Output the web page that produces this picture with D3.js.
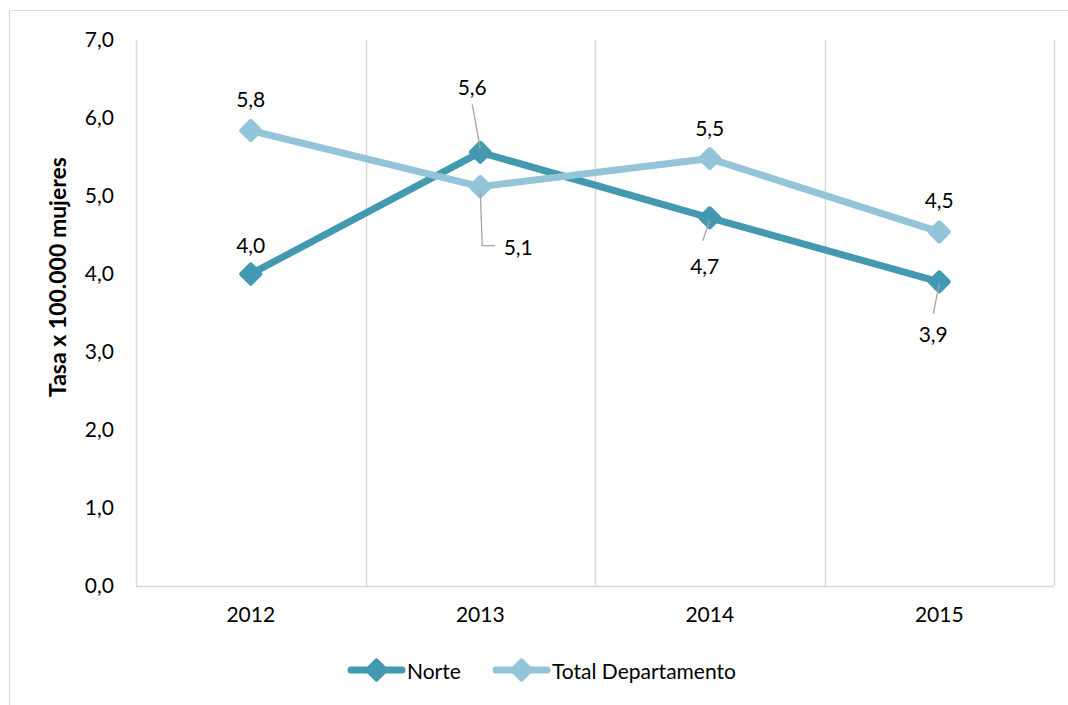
<!DOCTYPE html>
<html>
<head>
<meta charset="utf-8">
<script src="https://cdn.jsdelivr.net/npm/d3@7"></script>
<style>
  body { margin: 0; background: #fff; }
  text { font-family: Lato, "Open Sans", sans-serif; fill: #000; }
</style>
</head>
<body>
<script>
// data
var years = ["2012", "2013", "2014", "2015"];
var norte = [4.0, 5.56, 4.72, 3.9];
var totalDepto = [5.84, 5.12, 5.48, 4.54];
var yTicks = [0, 1, 2, 3, 4, 5, 6, 7];

var series = [
    {name: "Norte", values: norte, color: "#4399b0"},
    {name: "Total Departamento", values: totalDepto, color: "#93c4d8"}
];

// label placement per point: dx, dy from the marker, and leader line if any
var labelPos = {
    "Norte": [
        {dx: 0, dy: -30},
        {dx: -8, dy: -66, leader: [[-8, -48], [0, -4]]},
        {dx: -5, dy: 48, leader: [[-7, 23], [0, 2]]},
        {dx: -6, dy: 52, leader: [[-6, 32], [0, 2]]}
    ],
    "Total Departamento": [
        {dx: 0, dy: -32},
        {dx: 38, dy: 60, leader: [[0, 4], [2, 59], [15, 59]]},
        {dx: 0, dy: -31},
        {dx: 0, dy: -32}
    ]
};

var width = 1068, height = 705;
var margin = {top: 40, right: 14, bottom: 119, left: 136};
var fs = "21px";

var svg = d3.select("body").append("svg")
    .attr("width", width)
    .attr("height", height);

// outer chart border (only left and top show in the frame)
svg.append("path")
    .attr("d", "M9.5," + height + "V10.5H" + width)
    .attr("fill", "none")
    .attr("stroke", "#d9d9d9")
    .attr("stroke-width", 1);

var x = d3.scaleBand()
    .domain(years)
    .range([margin.left, width - margin.right])
    .padding(0);

var y = d3.scaleLinear()
    .domain([0, 7])
    .range([height - margin.bottom, margin.top]);

var fmt = function (v) { return d3.format(".1f")(v).replace(".", ","); };

// vertical gridlines at category edges
var edges = years.map(function (d) { return x(d); }).concat([x(years[years.length - 1]) + x.bandwidth()]);
svg.append("g").selectAll("line")
    .data(edges)
    .enter()
    .append("line")
    .attr("x1", function (d) { return Math.round(d) + 0.5; })
    .attr("x2", function (d) { return Math.round(d) + 0.5; })
    .attr("y1", y(7))
    .attr("y2", y(0))
    .attr("stroke", "#d9d9d9")
    .attr("stroke-width", 1.5);

// x axis baseline
svg.append("line")
    .attr("x1", margin.left)
    .attr("x2", width - margin.right)
    .attr("y1", Math.round(y(0)) + 0.5)
    .attr("y2", Math.round(y(0)) + 0.5)
    .attr("stroke", "#d9d9d9")
    .attr("stroke-width", 1.5);

// y axis
var yAxis = svg.append("g")
    .attr("transform", "translate(" + margin.left + ",0)")
    .call(d3.axisLeft(y).tickValues(yTicks).tickFormat(fmt).tickSize(0).tickPadding(22));
yAxis.select(".domain").remove();
yAxis.selectAll("text").style("font-size", fs).style("font-family", "Lato, sans-serif");

// x axis labels
var xAxis = svg.append("g")
    .attr("transform", "translate(0," + y(0) + ")")
    .call(d3.axisBottom(x).tickSize(0).tickPadding(21));
xAxis.select(".domain").remove();
xAxis.selectAll("text").style("font-size", fs).style("font-family", "Lato, sans-serif");

// axis title
svg.append("text")
    .attr("transform", "translate(57," + (y(3.96)) + ") rotate(-90)")
    .attr("text-anchor", "middle")
    .attr("dominant-baseline", "central")
    .style("font-size", "23px")
    .style("font-weight", "bold")
    .text("Tasa x 100.000 mujeres");

var line = d3.line()
    .x(function (d, i) { return x(years[i]) + x.bandwidth() / 2; })
    .y(function (d) { return y(d); });

var diamond = function (cx, cy, r) {
    return "M" + cx + "," + (cy - r) + "L" + (cx + r) + "," + cy +
        "L" + cx + "," + (cy + r) + "L" + (cx - r) + "," + cy + "Z";
};

series.forEach(function (s) {
    var g = svg.append("g");
    g.append("path")
        .datum(s.values)
        .attr("d", line)
        .attr("fill", "none")
        .attr("stroke", s.color)
        .attr("stroke-width", 7)
        .attr("stroke-linejoin", "round")
        .attr("stroke-linecap", "round");

    g.selectAll("path.mk")
        .data(s.values)
        .enter()
        .append("path")
        .attr("class", "mk")
        .attr("d", function (d, i) {
            return diamond(x(years[i]) + x.bandwidth() / 2, y(d), 9);
        })
        .attr("fill", s.color)
        .attr("stroke", s.color)
        .attr("stroke-width", 5)
        .attr("stroke-linejoin", "round");
});

// data labels and leader lines
series.forEach(function (s) {
    s.values.forEach(function (v, i) {
        var cx = x(years[i]) + x.bandwidth() / 2, cy = y(v);
        var p = labelPos[s.name][i];
        if (p.leader) {
            svg.append("polyline")
                .attr("points", p.leader.map(function (q) { return (cx + q[0]) + "," + (cy + q[1]); }).join(" "))
                .attr("fill", "none")
                .attr("stroke", "#a6a6a6")
                .attr("stroke-width", 1.3);
        }
        svg.append("text")
            .attr("x", cx + p.dx)
            .attr("y", cy + p.dy)
            .attr("text-anchor", "middle")
            .attr("dominant-baseline", "central")
            .style("font-size", fs)
            .text(fmt(v));
    });
});

// legend
var legend = svg.append("g").attr("transform", "translate(0,670)");
var legendX = [348, 493];
series.forEach(function (s, i) {
    var lx = legendX[i];
    legend.append("line")
        .attr("x1", lx + 3).attr("x2", lx + 54)
        .attr("y1", 0).attr("y2", 0)
        .attr("stroke", s.color)
        .attr("stroke-width", 7)
        .attr("stroke-linecap", "round");
    legend.append("path")
        .attr("d", diamond(lx + 28.5, 0, 9))
        .attr("fill", s.color)
        .attr("stroke", s.color)
        .attr("stroke-width", 5)
        .attr("stroke-linejoin", "round");
    legend.append("text")
        .attr("x", lx + 59)
        .attr("y", 0)
        .attr("dominant-baseline", "central")
        .style("font-size", fs)
        .text(s.name);
});
</script>
</body>
</html>
